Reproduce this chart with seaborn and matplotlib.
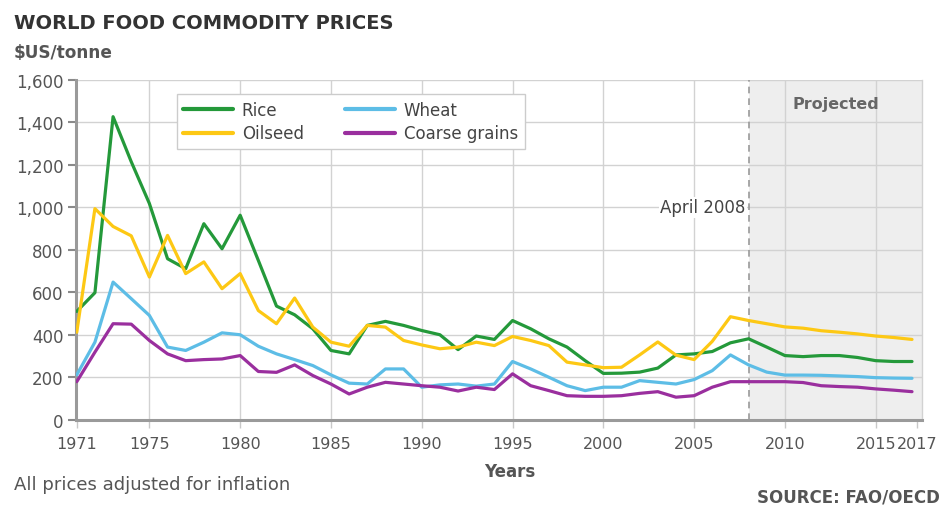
import matplotlib
matplotlib.use("Agg")
import matplotlib.pyplot as plt
import numpy as np
import pandas as pd
import seaborn as sns

# datos ($US/tonne, ajustados por inflacion)
years = list(range(1971, 2018))

rice = [510, 598, 1427, 1215, 1018, 758, 711, 923, 805, 963,
        750, 535, 494, 428, 326, 310, 444, 463, 444, 420,
        400, 330, 394, 378, 467, 428, 381, 342, 278, 218,
        219, 224, 243, 305, 310, 321, 362, 381, 342, 302,
        297, 302, 302, 293, 278, 274, 274]

oilseed = [412, 994, 910, 866, 672, 868, 688, 743, 617, 688,
           514, 452, 573, 436, 365, 346, 444, 436, 373, 352,
           334, 342, 365, 349, 392, 373, 349, 271, 258, 245,
           247, 305, 366, 304, 283, 369, 485, 467, 452, 437,
           431, 419, 412, 404, 394, 387, 378]

wheat = [211, 365, 648, 570, 491, 342, 326, 365, 409, 400,
         346, 310, 283, 255, 211, 172, 168, 239, 239, 153,
         164, 168, 158, 168, 274, 239, 200, 160, 137, 153,
         153, 184, 176, 168, 189, 231, 305, 258, 224, 210,
         210, 209, 206, 203, 198, 196, 195]

coarse_grains = [179, 318, 452, 450, 373, 310, 278, 283, 286, 302,
                 227, 223, 258, 208, 168, 121, 153, 176, 168, 160,
                 153, 135, 153, 142, 216, 160, 137, 113, 110, 110,
                 113, 124, 132, 106, 113, 153, 179, 179, 179, 179,
                 175, 160, 156, 153, 145, 139, 132]

series = ['Rice', 'Oilseed', 'Wheat', 'Coarse grains']
colores = ['#24993a', '#fdc814', '#5dbde6', '#9a2f9e']

y_ticks = [0, 200, 400, 600, 800, 1000, 1200, 1400, 1600]
x_labels = [1971, 1975, 1980, 1985, 1990, 1995, 2000, 2005, 2010, 2015, 2017]
projected_from = 2008

df = pd.DataFrame({'Year': years, 'Rice': rice, 'Oilseed': oilseed,
                   'Wheat': wheat, 'Coarse grains': coarse_grains})
df = df.melt(id_vars='Year', var_name='Commodity', value_name='Price')

sns.set_style('white')
plt.rcParams['font.family'] = ['DejaVu Sans']

fig = plt.figure(figsize=(9.41, 5.06), dpi=100)
ax = fig.add_axes([0.0808, 0.1686, 0.8990, 0.6714])

gris = '#555555'
x_min, x_max = 1970.96, 2017.55

# zona proyectada
ax.axvspan(projected_from, x_max, color='#eeeeee', zorder=0.2, lw=0)
ax.axvline(projected_from, color='#999999', lw=1.2, ls=(0, (4, 3)), zorder=0.6)

sns.lineplot(data=df, x='Year', y='Price', hue='Commodity', hue_order=series,
             palette=colores, linewidth=2.3, ax=ax, zorder=3)

ax.set_xlim(x_min, x_max)
ax.set_ylim(0, 1600)
ax.set_yticks(y_ticks)
ax.set_yticklabels([f'{v:,}' for v in y_ticks])
# la etiqueta 2017 va pegada al borde derecho, como en el original
ax.set_xticks(x_labels[:-1] + [x_max - 0.25])
ax.set_xticklabels([str(v) for v in x_labels])

ax.set_axisbelow(True)
ax.grid(True, color='#d2d2d2', linewidth=1.0)
gl = ax.xaxis.get_gridlines()
gl[0].set_visible(False)
gl[-1].set_visible(False)
ax.xaxis.get_major_ticks()[-1].tick1line.set_visible(False)

for s in ['left', 'bottom']:
    ax.spines[s].set_color('#9a9a9a')
    ax.spines[s].set_linewidth(2.2)
ax.spines['top'].set_visible(False)
ax.spines['right'].set_color('#d2d2d2')
ax.spines['right'].set_linewidth(1.0)

ax.tick_params(axis='y', labelcolor=gris, color='#8a8a8a', labelsize=12,
               length=6, width=1.5, pad=3, left=True)
ax.tick_params(axis='x', labelsize=11.5, labelcolor=gris, color='#c8c8c8',
               length=6, width=1.0, pad=6, bottom=True)

ax.set_ylabel('')
ax.set_xlabel('Years', fontsize=12, fontweight='bold', color=gris)
ax.xaxis.set_label_coords(0.513, -0.125)

# anotaciones
ax.text(projected_from - 0.15, 1000, 'April 2008', ha='right', va='center',
        fontsize=12, color='#444444', zorder=2,
        bbox=dict(facecolor='white', edgecolor='none', pad=1.0))
ax.text(2012.8, 1490, 'Projected', ha='center', va='center', fontsize=11.5,
        fontweight='bold', color='#666666')

# leyenda en dos columnas
ax.get_legend().remove()
handles, labels = ax.get_legend_handles_labels()
leg = ax.legend(handles, labels, ncol=2, loc='upper left',
                bbox_to_anchor=(0.119, 0.959), borderaxespad=0,
                fontsize=12, handlelength=3.0, handletextpad=0.5,
                columnspacing=2.5, labelspacing=0.35, borderpad=0.4,
                frameon=True, fancybox=False, framealpha=1,
                edgecolor='#cccccc')
leg.get_frame().set_linewidth(1.0)
for t in leg.get_texts():
    t.set_color('#444444')
for h in leg.get_lines():
    h.set_linewidth(3.0)

# textos de la figura
fig.text(14 / 941, 1 - 24 / 506, 'WORLD FOOD COMMODITY PRICES', fontsize=14,
         fontweight='bold', color='#333333', va='center', ha='left')
fig.text(14 / 941, 1 - 53 / 506, '$US/tonne', fontsize=12.2,
         fontweight='bold', color=gris, va='center', ha='left')
fig.text(14 / 941, 1 - 485 / 506, 'All prices adjusted for inflation',
         fontsize=13, color=gris, va='center', ha='left')
fig.text(940 / 941, 1 - 498 / 506, 'SOURCE: FAO/OECD', fontsize=12,
         fontweight='bold', color=gris, va='center', ha='right')

fig.savefig('out.png', dpi=100)
